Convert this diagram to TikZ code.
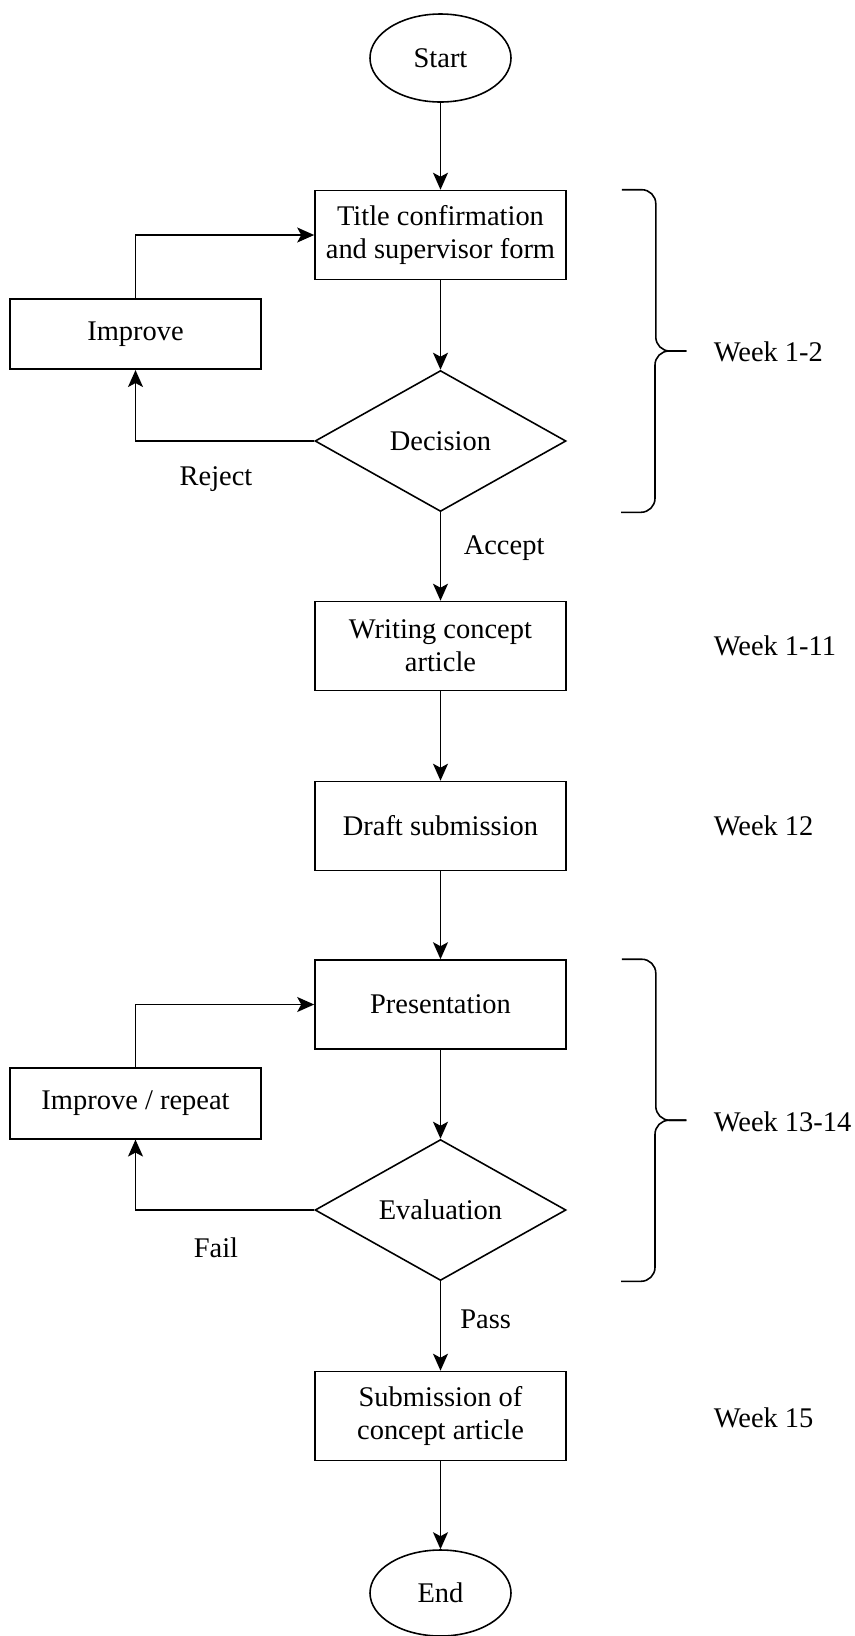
\documentclass[tikz,border=0pt]{standalone}
\usepackage{fontspec}
\setmainfont{Liberation Serif}
\usetikzlibrary{shapes.geometric, arrows.meta, positioning, calc}

\begin{document}
\begin{tikzpicture}[
    every node/.style={font=\fontsize{16.2}{19}\selectfont},
    line width=0.9pt,
    terminal/.style={draw, ellipse, inner sep=0pt, minimum width=2.82cm, minimum height=1.76cm},
    process/.style={draw, inner sep=3pt, minimum width=5.02cm, minimum height=1.78cm, align=center},
    fixbox/.style={draw, inner sep=3pt, minimum width=5.02cm, minimum height=1.41cm, align=center},
    decide/.style={draw, diamond, aspect=1.77, inner sep=0pt, minimum width=5.02cm, minimum height=2.82cm},
    week/.style={anchor=west, inner sep=0pt},
    arr/.style={-{Stealth[length=3.4mm, width=3mm, inset=0.8mm]}},
    curly/.style={rounded corners=0.28cm}
]
    \useasboundingbox (0,0) rectangle (17.08,-32.72);

    \node[terminal] (start) at (8.81, -1.16) {Start};
    \node[process] (title) at (8.81, -4.70) {Title confirmation\\and supervisor form};
    \node[fixbox] (improve) at (2.71, -6.68) {Improve};
    \node[decide] (decision) at (8.81, -8.82) {Decision};
    \node[process] (writing) at (8.81, -12.92) {Writing concept\\article};
    \node[process] (draft) at (8.81, -16.52) {Draft submission};
    \node[process] (present) at (8.81, -20.09) {Presentation};
    \node[fixbox] (repeat) at (2.71, -22.07) {Improve / repeat};
    \node[decide] (evaluation) at (8.81, -24.20) {Evaluation};
    \node[process] (submission) at (8.81, -28.32) {Submission of\\concept article};
    \node[terminal, minimum height=1.72cm] (finish) at (8.81, -31.86) {End};

    % main flow
    \draw[arr] (start) -- (title);
    \draw[arr] (title) -- (decision);
    \draw[arr] (decision) -- node[pos=0.41, right=0.45cm, inner sep=0pt] {Accept} (writing);
    \draw[arr] (writing) -- (draft);
    \draw[arr] (draft) -- (present);
    \draw[arr] (present) -- (evaluation);
    \draw[arr] (evaluation) -- node[pos=0.43, right=0.38cm, inner sep=0pt] {Pass} (submission);
    \draw[arr] (submission) -- (finish);

    % loops back
    \draw[arr] (decision.west) -| (improve.south);
    \draw[arr] (improve.north) |- (title.west);
    \draw[arr] (evaluation.west) -| (repeat.south);
    \draw[arr] (repeat.north) |- (present.west);
    \node (reject) at (4.32, -9.58) {Reject};
    \node (fail) at (4.32, -24.96) {Fail};

    % braces
    \coordinate (b1top) at ($(title.north east)+(1.1,0)$);
    \coordinate (b1bot) at ($(decision.south)+(3.61,0)$);
    \coordinate (b1tip) at ($(b1top)!0.5!(b1bot)+(1.3,0)$);
    \draw[curly] (b1top) -- ++(0.68,0) |- (b1tip);
    \draw[curly] (b1bot) -- ++(0.68,0) |- (b1tip);

    \coordinate (b2top) at ($(present.north east)+(1.1,0)$);
    \coordinate (b2bot) at ($(evaluation.south)+(3.61,0)$);
    \coordinate (b2tip) at ($(b2top)!0.5!(b2bot)+(1.3,0)$);
    \draw[curly] (b2top) -- ++(0.68,0) |- (b2tip);
    \draw[curly] (b2bot) -- ++(0.68,0) |- (b2tip);

    % weeks
    \node[week] (w1) at (14.26, -7.04) {Week 1-2};
    \node[week] (w2) at (14.26, -12.92) {Week 1-11};
    \node[week] (w3) at (14.26, -16.52) {Week 12};
    \node[week] (w4) at (14.26, -22.44) {Week 13-14};
    \node[week] (w5) at (14.26, -28.36) {Week 15};
\end{tikzpicture}
\end{document}
